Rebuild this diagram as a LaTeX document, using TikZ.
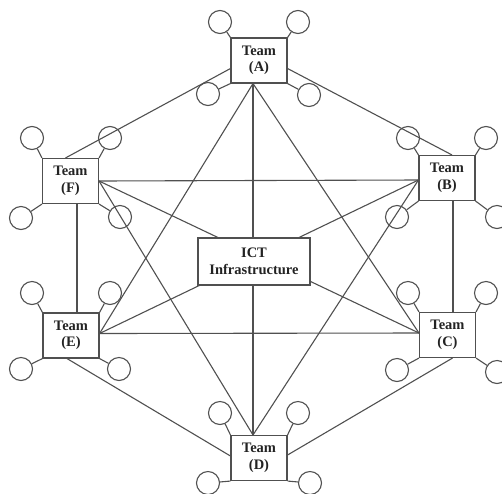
\documentclass[tikz,border=0pt]{standalone}
\usepackage{fontspec}
\setmainfont{Liberation Serif}
\usetikzlibrary{calc}
\definecolor{linegray}{RGB}{80,80,80}
\definecolor{textgray}{RGB}{35,35,35}
\begin{document}
\begin{tikzpicture}[x=1pt,y=-1pt,
  team/.style={draw=linegray, line width=1.1pt, fill=white, minimum width=56pt,
    minimum height=45pt, inner sep=0pt, align=center,
    font=\fontsize{14.5}{16.5}\selectfont\bfseries, text=textgray},
  hub/.style={team, minimum width=112pt, minimum height=47pt},
  member/.style={draw=linegray, line width=1.1pt, circle, minimum size=23pt, inner sep=0pt},
  link/.style={draw=linegray, line width=1.1pt}]
\useasboundingbox (0,0) rectangle (502,493);

% team boxes
\node[team] (A) at (259,60.5) {Team\\(A)};
\node[team] (B) at (447,178) {Team\\(B)};
\node[team] (C) at (447.5,335) {Team\\(C)};
\node[team] (D) at (259,458) {Team\\(D)};
\node[team] (E) at (71,335.5) {Team\\(E)};
\node[team] (F) at (70.5,181) {Team\\(F)};

% four members around each team, tied to the box corners
\foreach \t/\xa/\ya/\xb/\yb/\xc/\yc/\xd/\yd in {
  A/220/22/298/22/208/94/309/95,
  B/408/138/486/138/397/217/497/217,
  C/408/293/486/293/397/370/497/372,
  D/220/413/298/413/208/483/310/483,
  E/32/293/110/293/21/369/119/369,
  F/32/138/110/138/21/218/120/217} {
  \node[member] (\t1) at (\xa,\ya) {};
  \node[member] (\t2) at (\xb,\yb) {};
  \node[member] (\t3) at (\xc,\yc) {};
  \node[member] (\t4) at (\xd,\yd) {};
  \draw[link] (\t1) -- (\t.north west);
  \draw[link] (\t2) -- (\t.north east);
  \draw[link] (\t3) -- (\t.south west);
  \draw[link] (\t4) -- (\t.south east);
}

% attachment points on the boxes
\coordinate (Aw) at ($(A.west)+(0,8)$);
\coordinate (Ae) at ($(A.east)+(0,8)$);
\coordinate (As) at ($(A.south)+(-6,0)$);
\coordinate (Bn) at ($(B.north)+(5,0)$);
\coordinate (Bw) at ($(B.west)+(0,2)$);
\coordinate (Bs) at ($(B.south)+(6,0)$);
\coordinate (Cn) at ($(C.north)+(5.5,0)$);
\coordinate (Cw) at ($(C.west)+(0,-2)$);
\coordinate (Cs) at ($(C.south)+(5,0)$);
\coordinate (Dn) at ($(D.north)+(-6,0)$);
\coordinate (Dw) at ($(D.west)+(0,-2)$);
\coordinate (De) at ($(D.east)+(0,-3)$);
\coordinate (En) at ($(E.north)+(6,0)$);
\coordinate (Ee) at ($(E.east)+(0,-2)$);
\coordinate (Es) at ($(E.south)+(-4,0)$);
\coordinate (Fn) at ($(F.north)+(-5,0)$);
\coordinate (Fe) at (F.east);
\coordinate (Fs) at ($(F.south)+(6.5,0)$);

% outer ring
\draw[link] (Aw) -- (Fn);
\draw[link] (Ae) -- (Bn);
\draw[link] (Fs) -- (En);
\draw[link] (Bs) -- (Cn);
\draw[link] (Es) -- (Dw);
\draw[link] (Cs) -- (De);

% inner connections
\draw[link] (As) -- (Ee);
\draw[link] (As) -- (Cw);
\draw[link] (As) -- (Dn);
\draw[link] (Fe) -- (Bw);
\draw[link] (Fe) -- (Cw);
\draw[link] (Fe) -- (Dn);
\draw[link] (Bw) -- (Ee);
\draw[link] (Bw) -- (Dn);
\draw[link] (Ee) -- (Cw);

% central infrastructure box on top
\node[hub] (ICT) at (254,261.5) {ICT\\Infrastructure};
\end{tikzpicture}
\end{document}
